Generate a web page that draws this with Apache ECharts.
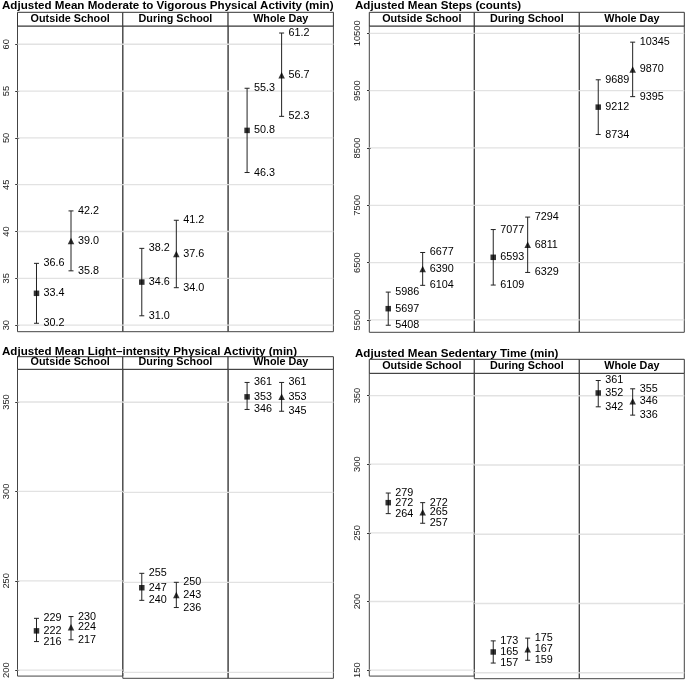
<!DOCTYPE html>
<html>
<head>
<meta charset="utf-8">
<script src="https://cdn.jsdelivr.net/npm/echarts@6/dist/echarts.min.js"></script>
<style>
html,body{margin:0;padding:0;background:#fff;}
#chart{width:685px;height:681px;}
</style>
</head>
<body>
<div id="chart"></div>
<script>
// ---------- data ----------
const facets = ['Outside School', 'During School', 'Whole Day'];
const panelTitles = [
  'Adjusted Mean Moderate to Vigorous Physical Activity (min)',
  'Adjusted Mean Steps (counts)',
  'Adjusted Mean Light\u2013intensity Physical Activity (min)',
  'Adjusted Mean Sedentary Time (min)'
];
// [mean, lower, upper] per facet
const mvpaSquare   = [[33.4, 30.2, 36.6], [34.6, 31.0, 38.2], [50.8, 46.3, 55.3]];
const mvpaTriangle = [[39.0, 35.8, 42.2], [37.6, 34.0, 41.2], [56.7, 52.3, 61.2]];
const stepsSquare   = [[5697, 5408, 5986], [6593, 6109, 7077], [9212, 8734, 9689]];
const stepsTriangle = [[6390, 6104, 6677], [6811, 6329, 7294], [9870, 9395, 10345]];
const lpaSquare   = [[222, 216, 229], [247, 240, 255], [353, 346, 361]];
const lpaTriangle = [[224, 217, 230], [243, 236, 250], [353, 345, 361]];
const sedSquare   = [[272, 264, 279], [165, 157, 173], [352, 342, 361]];
const sedTriangle = [[265, 257, 272], [167, 159, 175], [346, 336, 355]];
// y tick labels
const mvpaTicks  = [30, 35, 40, 45, 50, 55, 60];
const stepsTicks = [5500, 6500, 7500, 8500, 9500, 10500];
const lpaTicks   = [200, 250, 300, 350];
const sedTicks   = [150, 200, 250, 300, 350];
// x slot of each group inside a facet
const squareX = 1;
const triangleX = 3;

// ---------- layout ----------
const FONT = '"Liberation Sans", Arial, Helvetica, sans-serif';
const panels = [
  {title: panelTitles[0], sq: mvpaSquare, tr: mvpaTriangle, ticks: mvpaTicks, dec: 1,
   left: 17.5, fw: 105.3, top: 26, bottom: 331.7, stripTop: 12.3, titleX: 2, titleY: 5.8, yMin: 29.3, yMax: 61.95},
  {title: panelTitles[1], sq: stepsSquare, tr: stepsTriangle, ticks: stepsTicks, dec: 0,
   left: 369.3, fw: 105, top: 26, bottom: 332.3, stripTop: 12.3, titleX: 355, titleY: 5.8, yMin: 5285, yMax: 10627},
  {title: panelTitles[2], sq: lpaSquare, tr: lpaTriangle, ticks: lpaTicks, dec: 0,
   left: 17.5, fw: 105.3, top: 369.3, bottom: 678.3, stripTop: 356.7, titleX: 2, titleY: 352, yMin: 196.7, yMax: 368.3},
  {title: panelTitles[3], sq: sedSquare, tr: sedTriangle, ticks: sedTicks, dec: 0,
   left: 369.3, fw: 105, top: 373.3, bottom: 678.7, stripTop: 359.3, titleX: 355, titleY: 353.5, yMin: 145.7, yMax: 366.2}
];

const grids = [], xAxes = [], yAxes = [], series = [], graphics = [];
const INK = '#222';

panels.forEach((p, pi) => {
  graphics.push({
    type: 'text', x: p.titleX, y: p.titleY, silent: true,
    style: {text: p.title, fontSize: 11.6, fontWeight: 'bold', fontFamily: FONT, fill: '#000', verticalAlign: 'middle', align: 'left'}
  });
  facets.forEach((fname, fi) => {
    const gi = grids.length;
    const gx = p.left + fi * p.fw;
    grids.push({left: gx, top: p.top, width: p.fw, height: p.bottom - p.top,
      show: true, borderColor: '#444', borderWidth: 1, backgroundColor: 'transparent', containLabel: false});
    xAxes.push({type: 'value', gridIndex: gi, min: -0.1, max: 6, show: false});
    yAxes.push({
      type: 'value', gridIndex: gi, min: p.yMin, max: p.yMax, show: fi === 0,
      splitLine: {show: false}, axisLine: {show: false},
      axisTick: {show: fi === 0, length: 4, lineStyle: {color: '#333'}, customValues: p.ticks},
      axisLabel: {show: fi === 0, rotate: 90, fontSize: 9.4, fontFamily: FONT, color: '#222', margin: 7,
        customValues: p.ticks, formatter: v => String(Math.round(v))}
    });
    // strip header
    graphics.push({
      type: 'rect', silent: true,
      shape: {x: gx, y: p.stripTop, width: p.fw, height: p.top - p.stripTop},
      style: {fill: '#fff', stroke: '#333', lineWidth: 1}
    });
    graphics.push({
      type: 'text', silent: true, x: gx + p.fw / 2, y: (p.stripTop + p.top) / 2 - 0.5,
      style: {text: fname, fontSize: 10.8, fontWeight: 'bold', fontFamily: FONT, fill: '#000', align: 'center', verticalAlign: 'middle'}
    });
    // gridlines
    series.push({
      type: 'custom', xAxisIndex: gi, yAxisIndex: gi, silent: true, z: 1,
      data: p.ticks.map(t => [0, t]),
      renderItem: (params, api) => {
        const cs = params.coordSys;
        const y = api.coord([0, api.value(1)])[1];
        return {type: 'line', shape: {x1: cs.x, y1: y, x2: cs.x + cs.width, y2: y},
          style: {stroke: '#e2e2e2', lineWidth: 1.3}};
      }
    });
    // error bars + labels
    const rows = [[squareX].concat(p.sq[fi]), [triangleX].concat(p.tr[fi])];
    series.push({
      type: 'custom', xAxisIndex: gi, yAxisIndex: gi, silent: true, z: 3,
      data: rows,
      renderItem: (params, api) => {
        const x = api.value(0), m = api.value(1), lo = api.value(2), hi = api.value(3);
        const pm = api.coord([x, m]), pl = api.coord([x, lo]), ph = api.coord([x, hi]);
        const cw = 2.5, tx = pm[0] + 7;
        const txt = (v, y) => ({type: 'text', x: tx, y: y,
          style: {text: v.toFixed(p.dec), fontSize: 10.8, fontFamily: FONT, fill: '#000', align: 'left', verticalAlign: 'middle'}});
        return {type: 'group', children: [
          {type: 'line', shape: {x1: pm[0], y1: pl[1], x2: pm[0], y2: ph[1]}, style: {stroke: INK, lineWidth: 1}},
          {type: 'line', shape: {x1: pm[0] - cw, y1: pl[1], x2: pm[0] + cw, y2: pl[1]}, style: {stroke: INK, lineWidth: 1}},
          {type: 'line', shape: {x1: pm[0] - cw, y1: ph[1], x2: pm[0] + cw, y2: ph[1]}, style: {stroke: INK, lineWidth: 1}},
          txt(hi, ph[1]), txt(m, pm[1]), txt(lo, pl[1])
        ]};
      }
    });
    series.push({
      type: 'scatter', xAxisIndex: gi, yAxisIndex: gi, silent: true, z: 4,
      symbol: 'rect', symbolSize: 5.5, itemStyle: {color: '#000'},
      data: [[squareX, p.sq[fi][0]]]
    });
    series.push({
      type: 'scatter', xAxisIndex: gi, yAxisIndex: gi, silent: true, z: 4,
      symbol: 'triangle', symbolSize: 6.5, itemStyle: {color: '#000'},
      data: [[triangleX, p.tr[fi][0]]]
    });
  });
});

const chart = echarts.init(document.getElementById('chart'), null, {renderer: 'canvas'});
chart.setOption({
  animation: false,
  backgroundColor: '#fff',
  grid: grids, xAxis: xAxes, yAxis: yAxes, series: series,
  graphic: {elements: graphics}
});
</script>
</body>
</html>
